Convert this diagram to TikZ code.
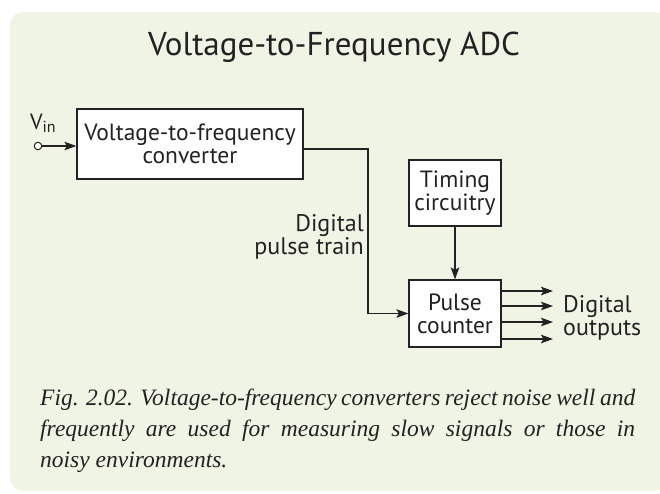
\documentclass[tikz,border=0pt]{standalone}
\usepackage{fontspec}
\setmainfont{Liberation Serif}
\newfontfamily\myriad{PT Sans}
\usetikzlibrary{arrows.meta}
\definecolor{bggreen}{HTML}{F0F4E4}
\definecolor{ink}{HTML}{222222}
\tikzset{
  blockbox/.style={draw=ink, line width=1.2pt, fill=white, inner sep=0pt, align=center,
     font=\myriad\fontsize{23.5}{23}\selectfont, text=ink},
  arr/.style={draw=ink, line width=1.4pt, -{Stealth[length=12pt,width=8.5pt,inset=2.5pt]}},
  lbl/.style={font=\myriad\fontsize{24}{23.5}\selectfont, text=ink, inner sep=0pt},
  captext/.style={font=\itshape\fontsize{23.5}{31}\selectfont, text=ink, inner sep=0pt, anchor=base west}
}
\begin{document}
\begin{tikzpicture}[x=1pt,y=-1pt]
\useasboundingbox (0,0) rectangle (660,493);
\begin{scope}
\clip (0,0) rectangle (660,493);
\fill[bggreen, rounded corners=13pt] (10,12) rectangle (668,491);
\end{scope}
\node[font=\myriad\fontsize{33}{36}\selectfont, text=ink] (title) at (334,47) {Voltage-to-Frequency ADC};
% blocks
\node[blockbox, minimum width=226pt, minimum height=70pt] (vfc) at (190,144) {Voltage-to-frequency\\converter};
\node[blockbox, minimum width=92pt, minimum height=66pt] (tim) at (455,193) {Timing\\circuitry};
\node[blockbox, minimum width=92pt, minimum height=67pt] (pc) at (455,313.5) {Pulse\\counter};
% input
\node[draw=ink, line width=1pt, fill=white, circle, minimum size=7.5pt, inner sep=0pt] (vin) at (38,146) {};
\node[lbl, font=\myriad\fontsize{22}{22}\selectfont, anchor=base west] (vinl) at (30,129) {V\raisebox{-3.5pt}{\fontsize{16}{16}\selectfont in}};
\draw[arr] (vin.east) -- (vfc.west |- vin.east);
% pulse train
\coordinate (bend) at (368,149);
\draw[arr] ([yshift=-5pt]vfc.east) -- (bend) |- (pc.west);
\node[lbl, align=right, anchor=east] (ptl) at (364,237) {Digital\\pulse train};
% timing to counter
\draw[arr] (tim.south) -- (pc.north);
% outputs
\coordinate (o1) at (553,291);
\coordinate (o2) at (553,306);
\coordinate (o3) at (553,322);
\coordinate (o4) at (553,339);
\draw[arr] (pc.east |- o1) -- (o1);
\draw[arr] (pc.east |- o2) -- (o2);
\draw[arr] (pc.east |- o3) -- (o3);
\draw[arr] (pc.east |- o4) -- (o4);
\node[lbl, align=left, anchor=west] (outl) at (563,318) {Digital\\outputs};
% caption
\node[captext] (c1) at (40,405) {\makebox[595pt][s]{Fig. 2.02. Voltage-to-frequency converters reject noise well and}};
\node[captext] (c2) at (40,436) {\makebox[595pt][s]{frequently are used for measuring slow signals or those in}};
\node[captext] (c3) at (40,467) {noisy environments.};
\end{tikzpicture}
\end{document}
